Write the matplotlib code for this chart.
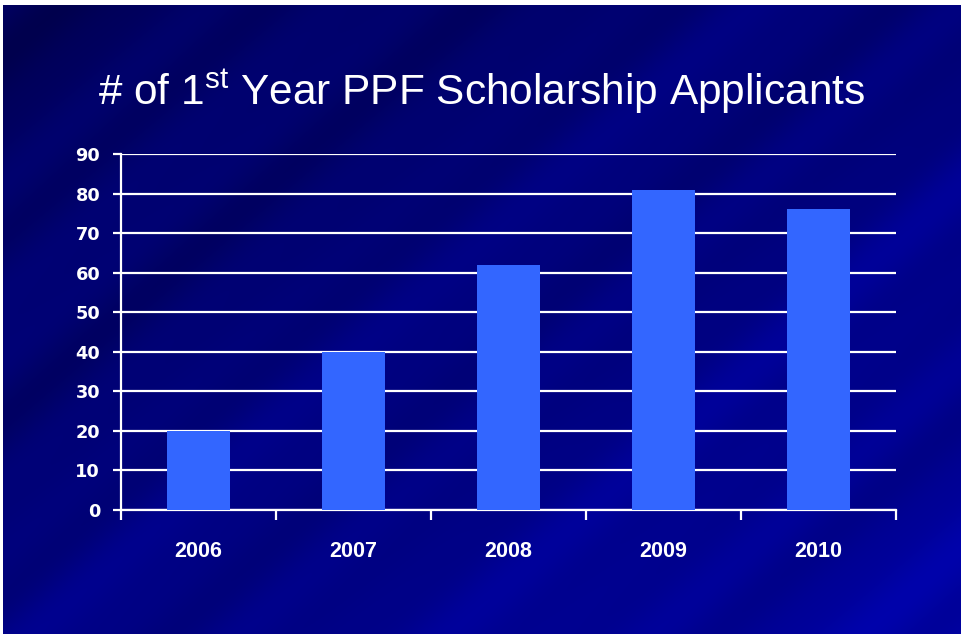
import numpy as np
import matplotlib
matplotlib.use("Agg")
import matplotlib.pyplot as plt

# ---- data ----
years = ["2006", "2007", "2008", "2009", "2010"]
applicants = [20, 40, 62, 81, 76]
yticks = [0, 10, 20, 30, 40, 50, 60, 70, 80, 90]
title = r"# of 1$^{\mathrm{st}}$ Year PPF Scholarship Applicants"

plt.rcParams["mathtext.fontset"] = "custom"
plt.rcParams["mathtext.rm"] = "Liberation Sans"
plt.rcParams["mathtext.it"] = "Liberation Sans"
plt.rcParams["mathtext.default"] = "regular"

W, H = 966, 635
fig = plt.figure(figsize=(W / 100, H / 100), dpi=100)
fig.patch.set_facecolor("white")

# ---- decorative background ----
bg = fig.add_axes([3 / W, 1 / H, 958 / W, 629 / H])
bg.set_axis_off()
ny, nx = 315, 480
yy, xx = np.mgrid[0:1:ny * 1j, 0:1:nx * 1j]
base = 0.32 + 0.25 * yy + 0.22 * xx          # darker top-left, brighter bottom/right
u = xx * 0.8 - (1 - yy) * 0.6
streak = 0.06 * np.sin(u * 38) + 0.05 * np.sin(u * 17 + 1.3) + 0.03 * np.sin(u * 71 + 0.4)
w = 0.6 + 0.5 * np.abs(xx - 0.45)
val = np.clip(base + streak * w, 0, 1)
img = np.zeros((ny, nx, 3))
img[..., 1] = 0.01 * val
img[..., 2] = 0.17 + 0.58 * val
img = np.clip(img, 0, 1)
bg.imshow(img, aspect="auto", extent=[0, 1, 0, 1], origin="upper", interpolation="bilinear")
bg.set_xlim(0, 1)
bg.set_ylim(0, 1)

# ---- chart ----
ax = fig.add_axes([121 / W, 1 - 510 / H, (896 - 121) / W, (510 - 154) / H])
ax.patch.set_alpha(0)
x = np.arange(len(years))
ax.bar(x, applicants, width=0.41, color="#3366FF", zorder=3)
ax.set_xlim(-0.5, len(years) - 0.5)
ax.set_ylim(0, 90)
ax.set_yticks(yticks)
ax.yaxis.grid(True, color="white", linewidth=1.6, zorder=1)
ax.set_axisbelow(True)

for s in ["top", "right"]:
    ax.spines[s].set_visible(False)
for s in ["left", "bottom"]:
    ax.spines[s].set_color("white")
    ax.spines[s].set_linewidth(1.6)

ax.set_xticks(x)
ax.set_xticklabels(years)
ax.set_xticks(np.arange(-0.5, len(years), 1.0), minor=True)
ax.tick_params(axis="x", which="major", length=0, pad=22, labelcolor="white")
ax.tick_params(axis="x", which="minor", length=7, width=1.6, color="white", direction="out")
ax.tick_params(axis="y", length=6, width=1.6, color="white", labelcolor="white", pad=9)
for lab in ax.get_xticklabels():
    lab.set_fontweight("bold")
    lab.set_family("Liberation Sans")
    lab.set_fontsize(15.5)
for lab in ax.get_yticklabels():
    lab.set_fontweight("bold")
    lab.set_family("DejaVu Sans")
    lab.set_fontsize(12.8)

fig.text(482 / W, 1 - 92 / H, title, color="white", fontsize=30.5,
         family="Liberation Sans", ha="center", va="center")

fig.savefig("out.png", dpi=100)
